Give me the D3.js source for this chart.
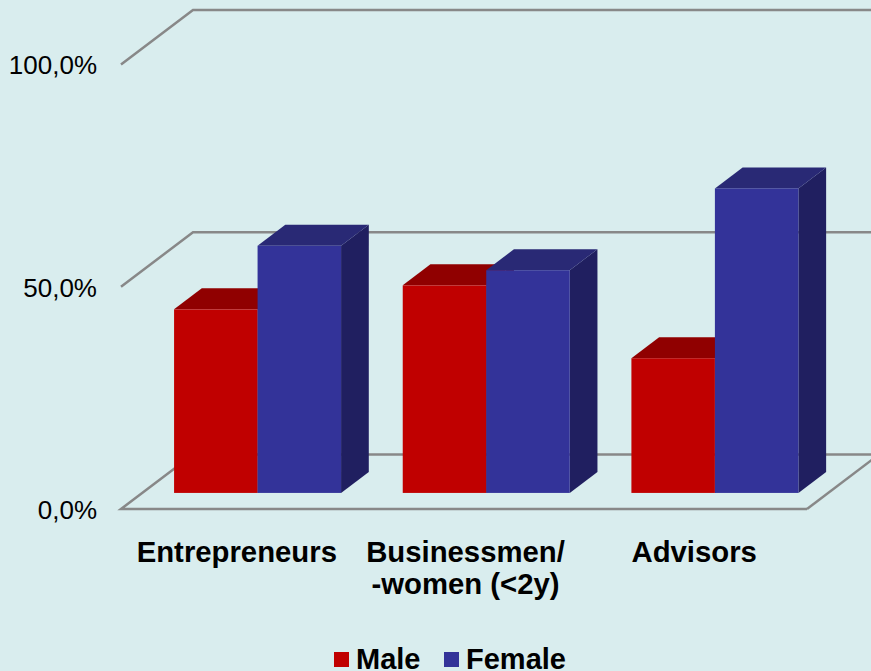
<!DOCTYPE html>
<html><head><meta charset="utf-8">
<script src="https://cdn.jsdelivr.net/npm/d3@7/dist/d3.min.js"></script>
<style>html,body{margin:0;padding:0;background:#d9edee;overflow:hidden}svg{display:block}text{font-family:"Liberation Sans",Arial,sans-serif;fill:#000}</style>
</head><body><svg id="c" width="871" height="671"></svg>
<script>
const categories = ["Entrepreneurs", ["Businessmen/", "-women (<2y)"], "Advisors"];
const seriesNames = ["Male", "Female"];
const male = [41.3, 46.7, 30.3];
const female = [55.6, 50.1, 68.5];
const tickValues = [0, 50, 100];
const tickLabels = ["0,0%", "50,0%", "100,0%"];
const faceColors = ["#c00000", "#333399"];
const topColors = ["#900000", "#292975"];
const sideColors = ["#700000", "#201f60"];

const svg = d3.select("#c");
const y = d3.scaleLinear().domain([0, 100]).range([509, 64.5]);
const x = d3.scaleBand().domain([0, 1, 2]).range([121, 807]);
// depth: 0 = front edge of the floor, 1 = back wall
const dx = d3.scaleLinear().domain([0, 1]).range([0, 72]);
const dy = d3.scaleLinear().domain([0, 1]).range([0, -54.5]);
const barFront = 0.295, barBack = 0.68;
const barWidth = 83.5;

// gridlines
const grid = svg.append("g").attr("fill", "none").attr("stroke", "#888888").attr("stroke-width", 2.5);
tickValues.forEach(v => {
  const y0 = y(v);
  grid.append("path").attr("d", v === 0
    ? `M${x.range()[1]},${y0}L${x.range()[0]},${y0}L${x.range()[0] + dx(1)},${y0 + dy(1)}L871,${y0 + dy(1)}`
    : `M${x.range()[0]},${y0}L${x.range()[0] + dx(1)},${y0 + dy(1)}L871,${y0 + dy(1)}`);
});
// right floor edge
grid.append("path").attr("d", `M${x.range()[1]},${y(0)}L${x.range()[1] + dx(1)},${y(0) + dy(1)}`);

// bars
const series = [male, female];
categories.forEach((c, i) => {
  const gap = (x.bandwidth() - 2 * barWidth) / 2 + 1;
  series.forEach((vals, s) => {
    const fx = x(i) + gap + dx(barFront) + s * barWidth;
    const bottom = y(0) + dy(barFront);
    const top = bottom - (y(0) - y(vals[i]));
    const ddx = dx(barBack - barFront), ddy = dy(barBack - barFront);
    const g = svg.append("g");
    g.append("path").attr("fill", sideColors[s])
      .attr("d", `M${fx + barWidth},${top}L${fx + barWidth + ddx},${top + ddy}L${fx + barWidth + ddx},${bottom + ddy}L${fx + barWidth},${bottom}Z`);
    g.append("path").attr("fill", topColors[s])
      .attr("d", `M${fx},${top}L${fx + ddx},${top + ddy}L${fx + barWidth + ddx},${top + ddy}L${fx + barWidth},${top}Z`);
    g.append("rect").attr("fill", faceColors[s]).attr("x", fx).attr("y", top).attr("width", barWidth).attr("height", bottom - top);
  });
});

// y axis labels
const axis = d3.axisLeft(y).tickValues(tickValues).tickSize(0).tickPadding(0)
  .tickFormat((d, i) => tickLabels[i]);
const ag = svg.append("g").attr("transform", "translate(97,1)").call(axis);
ag.select(".domain").remove();
ag.selectAll("text").style("font-size", "26px").style("font-family", '"Liberation Sans",Arial,sans-serif').attr("fill", "#000");

// category labels
categories.forEach((c, i) => {
  const lines = Array.isArray(c) ? c : [c];
  const cx = x(i) + x.bandwidth() / 2 + 1.5;
  const t = svg.append("text").attr("text-anchor", "middle").attr("font-weight", "bold").attr("font-size", 29.3)
    .attr("x", cx).attr("y", 562);
  lines.forEach((l, k) => t.append("tspan").attr("x", cx).attr("dy", k ? 32 : 0).text(l));
});

// legend
const legendX = [334, 444];
seriesNames.forEach((n, s) => {
  svg.append("rect").attr("x", legendX[s]).attr("y", 652).attr("width", 15).attr("height", 15).attr("fill", faceColors[s]);
  svg.append("text").attr("x", legendX[s] + 22).attr("y", 669).attr("font-weight", "bold").attr("font-size", 29).text(n);
});
</script></body></html>
